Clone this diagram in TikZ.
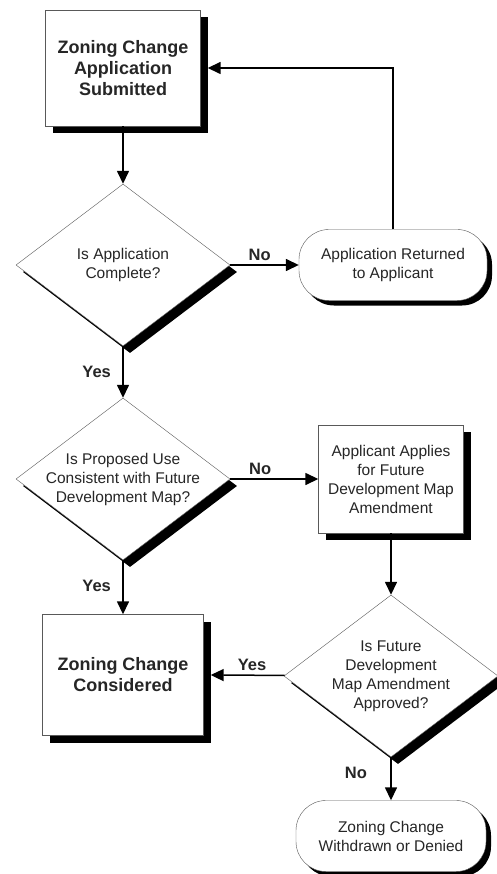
\documentclass[tikz,border=0pt]{standalone}
\usepackage{fontspec}
\setmainfont{Liberation Sans}
\usetikzlibrary{positioning,shapes.geometric,shadows,arrows.meta}
\tikzset{stepnode/.style={rectangle, draw=black!65, fill=white, thin, align=center, text=black!85,
    drop shadow={shadow xshift=7pt, shadow yshift=-7pt, fill=black, opacity=1}},
  bignode/.style={stepnode, font=\bfseries\fontsize{18}{21}\selectfont, minimum width=155pt, minimum height=116pt},
  plainnode/.style={stepnode, font=\fontsize{15.5}{19}\selectfont, minimum width=145pt, minimum height=108pt},
  decisionnode/.style={diamond, draw=black!65, fill=white, thin, align=center, text=black!85,
    inner sep=-6pt, aspect=1.32, minimum width=214pt, minimum height=162pt, font=\fontsize{15.5}{19}\selectfont,
    drop shadow={shadow xshift=7pt, shadow yshift=-7pt, fill=black, opacity=1}},
  endnode/.style={rectangle, rounded corners=30pt, draw=black!65, fill=white, thin, align=center, text=black!85,
    minimum width=188pt, minimum height=71pt, font=\fontsize{15.5}{19}\selectfont,
    drop shadow={shadow xshift=5pt, shadow yshift=-5pt, fill=black, opacity=1}},
  answer/.style={font=\bfseries\fontsize{16.5}{20}\selectfont, text=black!85},
  flow/.style={line width=1.5pt, -{Triangle[length=13pt,width=12pt]}},}

\begin{document}
\begin{tikzpicture}
\path[use as bounding box, fill=white] (0,0) rectangle (497pt,-874pt);
\node [bignode] (submitted) at (123pt,-68pt) {Zoning Change\\Application\\Submitted};
\node [decisionnode, node distance=197pt] (complete) [below of=submitted] {Is Application\\Complete?};
\node [endnode, node distance=270pt] (returned) [right of=complete] {Application Returned\\to Applicant};
\node [decisionnode, node distance=214pt] (consistent) [below of=complete] {Is Proposed Use\\Consistent with Future\\Development Map?};
\node [plainnode, node distance=268pt] (applies) [right of=consistent] {Applicant Applies\\for Future\\Development Map\\Amendment};
\node [bignode, minimum width=161pt, minimum height=121pt, node distance=196pt] (considered) [below of=consistent] {Zoning Change\\Considered};
\node [decisionnode, node distance=197pt] (approved) [below of=applies] {Is Future\\Development\\Map Amendment\\Approved?};
\node [endnode, minimum width=190pt, node distance=160pt] (denied) [below of=approved] {Zoning Change\\Withdrawn or Denied};
\draw[flow] (submitted) -- (complete);
\draw[flow] (complete) -- node[answer, above, pos=0.43] {No} (returned);
\draw[flow] (returned) |- ([xshift=7pt]submitted.east);
\draw[flow] (complete) -- node[answer, left=8pt, pos=0.5] {Yes} (consistent);
\draw[flow] (consistent) -- node[answer, above, pos=0.34] {No} (applies);
\draw[flow] (consistent) -- node[answer, left=8pt, pos=0.47] {Yes} (considered);
\draw[flow] (applies) -- (approved);
\draw[flow] (approved) -- node[answer, above, pos=0.44] {Yes} ([xshift=7pt]considered.east);
\draw[flow] (approved) -- node[answer, left=20pt, pos=0.36] {No} (denied);
\end{tikzpicture}
\end{document}
